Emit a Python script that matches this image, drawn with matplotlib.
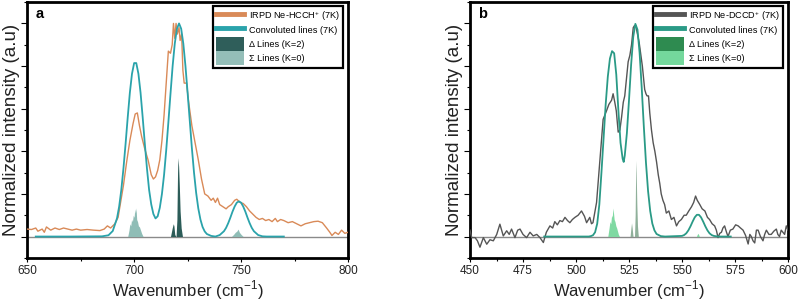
import numpy as np
import matplotlib
matplotlib.use("Agg")
import matplotlib.pyplot as plt
from matplotlib.lines import Line2D
from matplotlib.patches import Patch
from matplotlib.ticker import MultipleLocator

plt.rcParams['font.family'] = ['Liberation Sans', 'DejaVu Sans']
plt.rcParams['mathtext.fontset'] = 'custom'
plt.rcParams['mathtext.rm'] = 'Liberation Sans'

# ---- panel a : Ne-HCCH+ ----
exp_a_x = [650, 652, 654, 655, 657, 658, 659, 661, 663, 665, 667, 669, 671, 673, 675, 678, 681, 684,
           686, 687.5, 689, 691, 692.5, 693.5, 695, 696.5, 698, 699.5, 700.5, 701.5, 702.5, 703.5,
           705, 706.5, 708, 709, 710, 711, 712, 713, 714, 715, 716, 717, 717.8, 718.4, 719, 719.6,
           720.2, 721, 721.5, 722.2, 722.8, 723.4, 724.5, 725.5, 727, 728.5, 730, 731.5, 733, 734.5,
           736, 737, 738, 739, 740, 741.5, 743, 744, 745.5, 747, 748, 749.5, 751, 752.5, 754, 755.5,
           757, 758.5, 760, 761.5, 763, 764.5, 766, 767, 768.5, 770, 772, 774, 776, 778, 780, 782,
           784, 786, 788, 790, 791.5, 792.5, 794, 795.5, 797, 798.5, 800]
exp_a_y = [0.035, 0.033, 0.04, 0.025, 0.035, 0.02, 0.045, 0.03, 0.04, 0.033, 0.04, 0.035, 0.03, 0.035,
           0.03, 0.033, 0.03, 0.028, 0.035, 0.05, 0.04, 0.06, 0.09, 0.15, 0.24, 0.35, 0.45, 0.53,
           0.575, 0.58, 0.52, 0.47, 0.41, 0.36, 0.29, 0.27, 0.28, 0.31, 0.36, 0.45, 0.57, 0.72, 0.87,
           0.86, 0.90, 1.0, 0.93, 1.0, 0.95, 0.98, 0.92, 0.95, 0.78, 0.72, 0.72, 0.63, 0.52, 0.44,
           0.36, 0.27, 0.20, 0.19, 0.17, 0.18, 0.16, 0.18, 0.15, 0.14, 0.13, 0.14, 0.15, 0.17, 0.175,
           0.16, 0.155, 0.14, 0.12, 0.105, 0.09, 0.08, 0.085, 0.075, 0.08, 0.07, 0.085, 0.07, 0.08,
           0.075, 0.065, 0.07, 0.06, 0.05, 0.06, 0.065, 0.07, 0.072, 0.065, 0.04, 0.02, 0.005, 0.02,
           0.01, 0.03, 0.015, 0.02]

conv_a_x = [654, 670, 685, 688, 690, 692, 693, 694, 695, 696, 697, 698, 699, 700, 701, 702, 703, 704,
            705, 706, 707, 708, 709, 710, 711, 712, 713, 714, 715, 716, 717, 718, 719, 720, 721, 722,
            723, 724, 725, 726, 727, 728, 729, 730, 731, 732, 733, 734, 736, 738, 740, 742, 743, 744,
            745, 746, 747, 748, 749, 750, 751, 752, 753, 754, 755, 756, 758, 760, 762, 770]
conv_a_y = [0, 0, 0.001, 0.006, 0.026, 0.086, 0.141, 0.219, 0.319, 0.435, 0.559, 0.675, 0.764, 0.814,
            0.814, 0.764, 0.675, 0.559, 0.435, 0.319, 0.219, 0.151, 0.106, 0.085, 0.095, 0.135,
            0.200, 0.290, 0.405, 0.535, 0.670, 0.800, 0.905, 0.975, 1.0, 0.975, 0.905, 0.800, 0.675,
            0.545, 0.415, 0.300, 0.205, 0.132, 0.080, 0.045, 0.024, 0.012, 0.003, 0.0, 0.007, 0.025,
            0.041, 0.063, 0.089, 0.117, 0.141, 0.159, 0.165, 0.159, 0.141, 0.117, 0.089, 0.063,
            0.041, 0.025, 0.007, 0.001, 0, 0]

delta_a_x = [717.0, 717.8, 718.3, 718.6, 719.0, 719.5, 719.6, 720.0, 720.3, 720.5, 720.8, 721.1,
             721.5, 722.0, 722.6]
delta_a_y = [0, 0.04, 0.06, 0.05, 0.01, 0, 0, 0.08, 0.30, 0.37, 0.33, 0.25, 0.12, 0.04, 0]

sigma_a_x = [697.0, 697.6, 698.0, 698.4, 698.8, 699.2, 699.6, 700.0, 700.3, 700.6, 700.9, 701.2,
             701.6, 702.0, 702.5, 703.0, 703.5, 704.2,
             745.5, 746.5, 747.3, 748.0, 748.6, 749.2, 750.0, 751.0]
sigma_a_y = [0, 0.03, 0.06, 0.05, 0.08, 0.07, 0.10, 0.09, 0.13, 0.11, 0.135, 0.08, 0.07, 0.05,
             0.045, 0.03, 0.015, 0,
             0, 0.01, 0.02, 0.025, 0.035, 0.02, 0.01, 0]

# ---- panel b : Ne-DCCD+ ----
exp_b_x = [450, 450.8, 452.4, 453.5, 454.7, 456.3, 457.9, 459.4, 461, 462.6, 464.1, 465.7, 467.3,
           468.5, 469.6, 471.2, 472.5, 473.6, 475, 476.7, 478.3, 479.8, 481.5, 483, 484.6, 486,
           487.7, 489, 490, 491.2, 492.4, 493.6, 494.8, 496, 497.1, 498.3, 499.5, 501, 502.6, 504,
           505, 506.5, 507.3, 508, 509, 509.7, 510.5, 511.3, 512.8, 514.4, 515.5, 516.8, 517.5,
           518.3, 519, 519.9, 520.7, 521.5, 522.3, 523, 523.8, 524.6, 525.4, 526.2, 527, 527.6,
           528.2, 529, 529.8, 530.5, 531.3, 532.4, 533, 533.5, 534.2, 534.8, 535.6, 536.4, 537.2,
           538, 538.8, 539.5, 540.2, 541, 541.8, 542.6, 543.8, 545, 546.2, 547.4, 548.5, 549.7,
           551, 552, 553.2, 554.5, 555.5, 556.4, 557.2, 558.4, 559.5, 560.8, 562, 563, 564.2,
           565.4, 566.2, 567, 567.8, 568.6, 569.3, 570.1, 571, 571.7, 572.8, 574, 575.3, 576.5,
           577.6, 578.8, 580, 581.2, 582, 582.7, 583.5, 584.3, 585.1, 585.9, 587, 588.2, 589,
           589.8, 591, 592.1, 593.3, 594.5, 595.2, 596, 596.8, 597.6, 598.4, 599.2, 600]
exp_b_y = [0.03, -0.005, -0.005, -0.02, -0.05, -0.005, -0.036, -0.015, -0.02, 0.01, 0.058, 0.003,
           0.027, 0.01, 0.035, -0.005, 0.03, 0.035, 0.01, -0.005, 0.02, 0.003, 0.01, -0.005,
           -0.028, 0.02, 0.05, 0.04, 0.07, 0.055, 0.075, 0.07, 0.09, 0.075, 0.065, 0.08, 0.09, 0.10,
           0.12, 0.095, 0.065, 0.09, 0.06, 0.065, 0.12, 0.16, 0.26, 0.36, 0.55, 0.59, 0.62, 0.64,
           0.67, 0.63, 0.59, 0.49, 0.50, 0.56, 0.63, 0.66, 0.74, 0.82, 0.85, 0.90, 0.98, 0.99, 0.99,
           0.95, 0.91, 0.86, 0.80, 0.69, 0.67, 0.66, 0.66, 0.58, 0.50, 0.44, 0.40, 0.35, 0.29,
           0.25, 0.20, 0.17, 0.15, 0.11, 0.12, 0.08, 0.09, 0.05, 0.07, 0.08, 0.10, 0.10, 0.12,
           0.14, 0.16, 0.19, 0.17, 0.15, 0.13, 0.12, 0.09, 0.08, 0.06, 0.05, 0.03, -0.005, 0.015,
           0.02, 0.04, 0.05, 0.02, 0.0, 0.03, 0.035, 0.055, 0.05, 0.04, 0.03, 0.005, -0.035, 0.01,
           0.0, -0.02, -0.03, 0.03, 0.03, 0.0, -0.02, 0.01, 0.03, 0.01, 0.01, 0.025, 0.035, 0.01,
           0.0, 0.03, 0.02, 0.01, 0.05, 0.03]

conv_b_x = [485, 500, 506, 507, 508, 509, 510, 511, 512, 513, 514, 515, 516, 517, 518, 519, 520,
            521, 522, 522.5, 523, 524, 525, 526, 527, 528, 529, 530, 531, 532, 533, 534, 535, 536,
            537, 538, 540, 542, 550, 551, 552, 553, 554, 555, 556, 557, 558, 559, 560, 561, 562,
            563, 564, 565, 567, 573]
conv_b_y = [0, 0, 0, 0.002, 0.006, 0.02, 0.06, 0.15, 0.30, 0.46, 0.62, 0.75, 0.835, 0.87, 0.86,
            0.76, 0.59, 0.44, 0.365, 0.35, 0.38, 0.485, 0.640, 0.806, 0.937, 0.998, 0.971, 0.862,
            0.698, 0.515, 0.347, 0.213, 0.120, 0.061, 0.029, 0.012, 0.002, 0, 0.003, 0.007,
            0.015, 0.029, 0.048, 0.070, 0.090, 0.102, 0.102, 0.090, 0.070, 0.048, 0.029, 0.015,
            0.007, 0.003, 0, 0]

delta_b_x = [525.5, 525.9, 526.2, 526.5, 526.9, 527.6, 527.9, 528.2, 528.4, 528.7, 529.0, 529.4]
delta_b_y = [0, 0.04, 0.064, 0.04, 0, 0, 0.10, 0.357, 0.30, 0.15, 0.05, 0]

sigma_b_x = [515.0, 515.6, 516.0, 516.4, 516.8, 517.1, 517.4, 517.7, 518.0, 518.4, 518.8, 519.2,
             519.6, 520.0, 520.5, 556.8, 557.2, 557.5, 557.8, 558.2]
sigma_b_y = [0, 0.04, 0.07, 0.06, 0.10, 0.09, 0.134, 0.11, 0.08, 0.07, 0.05, 0.04, 0.025, 0.01,
             0, 0, 0.01, 0.015, 0.01, 0]

legend_a = ["IRPD Ne-HCCH$^{+}$ (7K)", "Convoluted lines (7K)", "Δ Lines (K=2)", "Σ Lines (K=0)"]
legend_b = ["IRPD Ne-DCCD$^{+}$ (7K)", "Convoluted lines (7K)", "Δ Lines (K=2)", "Σ Lines (K=0)"]


def draw_panel(ax, exp, conv, delta, sigma, cols, labels, xlim, xmaj, tag):
    ax.axhline(0, color='#8a8a8a', lw=1.0, zorder=1)
    ax.fill_between(sigma[0], 0, sigma[1], color=cols[2], lw=0, zorder=2)
    ax.fill_between(delta[0], 0, delta[1], color=cols[3], lw=0, zorder=2)
    ax.plot(exp[0], exp[1], color=cols[0], lw=1.0, zorder=3)
    ax.plot(conv[0], conv[1], color=cols[1], lw=1.3, zorder=4)

    ax.set_xlim(*xlim)
    ax.set_ylim(-0.1, 1.1)
    ax.xaxis.set_major_locator(MultipleLocator(xmaj))
    ax.xaxis.set_minor_locator(MultipleLocator(xmaj / 2))
    ax.yaxis.set_major_locator(MultipleLocator(0.2))
    ax.yaxis.set_minor_locator(MultipleLocator(0.1))
    ax.tick_params(axis='y', which='both', labelleft=False, direction='out', width=0.8)
    ax.tick_params(axis='y', which='major', length=4)
    ax.tick_params(axis='y', which='minor', length=2)
    ax.tick_params(axis='x', which='major', length=3, width=0.8, labelsize=8.5, pad=2,
                   labelcolor='#222222')
    ax.tick_params(axis='x', which='minor', length=2, width=0.8)
    for s in ax.spines.values():
        s.set_linewidth(2.0)
    ax.set_xlabel("Wavenumber (cm$^{\\mathregular{-1}}$)", fontsize=12, labelpad=1,
                  color='#222222')
    ax.set_ylabel("Normalized intensity (a.u)", fontsize=13.5, labelpad=1, color='#222222')
    ax.text(0.025, 0.955, tag, transform=ax.transAxes, fontsize=10.5, fontweight='bold',
            ha='left', va='center')

    handles = [Line2D([], [], color=cols[0], lw=3.5),
               Line2D([], [], color=cols[1], lw=3.5),
               Patch(facecolor=cols[4], edgecolor='none'),
               Patch(facecolor=cols[5], edgecolor='none')]
    leg = ax.legend(handles, labels, loc='upper right', bbox_to_anchor=(0.985, 0.985),
                    borderaxespad=0, fontsize=6.6, handlelength=3.0, handleheight=1.95,
                    labelspacing=0.0, handletextpad=0.6, borderpad=0.35,
                    fancybox=False, framealpha=1)
    leg.get_frame().set_edgecolor('black')
    leg.get_frame().set_linewidth(1.6)


fig = plt.figure(figsize=(8, 3.03), dpi=100)
ax_a = fig.add_axes([0.034, 0.149, 0.401, 0.844])
ax_b = fig.add_axes([0.5875, 0.149, 0.3975, 0.844])

# colours: exp, conv, sigma fill, delta fill, legend delta, legend sigma
cols_a = ['#d98a58', '#2aa3ab', '#8fbdb6', '#2c5c58', '#2f5e5a', '#94beb8']
cols_b = ['#555555', '#2a9a86', '#7fd9a2', '#8fb09a', '#2e8b50', '#74d89c']

draw_panel(ax_a, (exp_a_x, exp_a_y), (conv_a_x, conv_a_y), (delta_a_x, delta_a_y),
           (sigma_a_x, sigma_a_y), cols_a, legend_a, (650, 800), 50, 'a')
draw_panel(ax_b, (exp_b_x, exp_b_y), (conv_b_x, conv_b_y), (delta_b_x, delta_b_y),
           (sigma_b_x, sigma_b_y), cols_b, legend_b, (450, 600), 25, 'b')

fig.savefig("out.png", dpi=100)
